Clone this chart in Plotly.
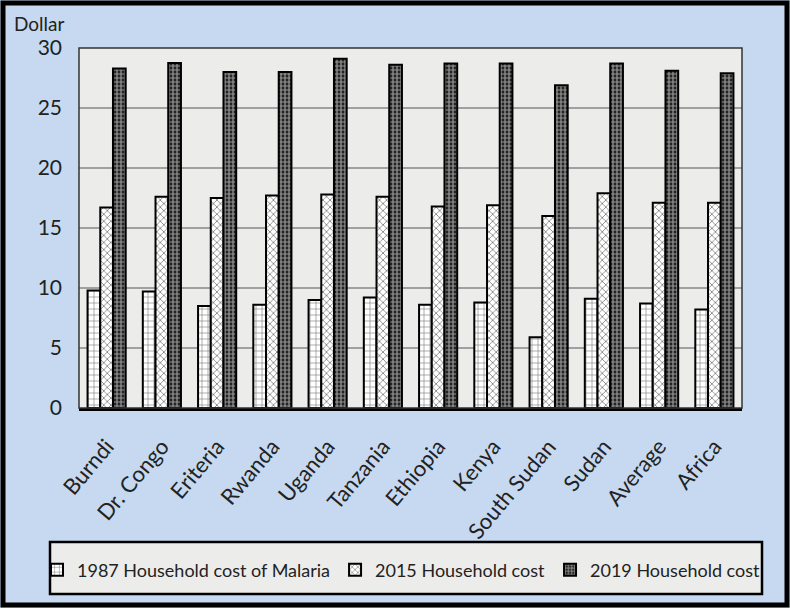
import plotly.graph_objects as go

categories = ["Burndi", "Dr. Congo", "Eriteria", "Rwanda", "Uganda", "Tanzania",
              "Ethiopia", "Kenya", "South Sudan", "Sudan", "Average", "Africa"]
cost_1987 = [9.8, 9.7, 8.5, 8.6, 9.0, 9.2, 8.6, 8.8, 5.9, 9.1, 8.7, 8.2]
cost_2015 = [16.7, 17.6, 17.5, 17.7, 17.8, 17.6, 16.8, 16.9, 16.0, 17.9, 17.1, 17.1]
cost_2019 = [28.3, 28.75, 28.0, 28.0, 29.1, 28.6, 28.7, 28.7, 26.9, 28.7, 28.1, 27.9]
series_names = ["1987 Household cost of Malaria", "2015 Household cost", "2019 Household cost"]
y_ticks = [0, 5, 10, 15, 20, 25, 30]

FONT = "Lato"
TXT = "#222222"
fig = go.Figure()
fig.add_trace(go.Bar(
    x=categories, y=cost_1987, name=series_names[0],
    marker=dict(color="white", line=dict(color="black", width=2),
                pattern=dict(shape="+", fgcolor="black", bgcolor="white", size=6, solidity=0.2)),
))
fig.add_trace(go.Bar(
    x=categories, y=cost_2015, name=series_names[1],
    marker=dict(color="white", line=dict(color="black", width=2),
                pattern=dict(shape="x", fgcolor="black", bgcolor="white", size=5, solidity=0.3)),
))
fig.add_trace(go.Bar(
    x=categories, y=cost_2019, name=series_names[2],
    marker=dict(color="black", line=dict(color="black", width=2),
                pattern=dict(shape=".", fgcolor="white", bgcolor="black", size=4, solidity=0.7)),
))

L, R, T, B = 79, 48, 48, 200
PW, PH = 790 - L - R, 608 - T - B

def px_x(x):
    return (x - L) / PW

def px_y(y):
    return (608 - B - y) / PH

fig.update_layout(
    width=790, height=608,
    margin=dict(l=L, r=R, t=T, b=B, pad=0, autoexpand=False),
    paper_bgcolor="#c6d9f0",
    plot_bgcolor="#ececea",
    barmode="group",
    bargap=0.31,
    bargroupgap=0.0,
    font=dict(family=FONT, color=TXT),
    showlegend=True,
    legend=dict(
        orientation="h", x=px_x(37), xanchor="left",
        y=px_y(570), yanchor="middle",
        bgcolor="rgba(0,0,0,0)", borderwidth=0,
        font=dict(family=FONT, size=18, color=TXT),
        traceorder="normal",
    ),
    xaxis=dict(
        tickangle=-50, tickfont=dict(family=FONT, size=22, color=TXT),
        showline=True, linecolor="black", linewidth=3, ticks="",
        ticklabelstandoff=14,
    ),
    yaxis=dict(
        range=[0, 30], tickvals=y_ticks, ticktext=[str(v) for v in y_ticks],
        tickfont=dict(family=FONT, size=21, color=TXT),
        showgrid=True, gridcolor="#a0a0a0", gridwidth=1.5, zeroline=False,
        showline=False, ticks="", ticklabelstandoff=16,
    ),
    annotations=[dict(
        text="Dollar", xref="paper", yref="paper",
        x=px_x(12), y=px_y(23), xanchor="left", yanchor="middle",
        showarrow=False, font=dict(family=FONT, size=19, color=TXT),
    )],
    shapes=[
        dict(type="rect", xref="paper", yref="paper", x0=0, x1=1, y0=0, y1=1,
             line=dict(color="#333333", width=1.5), layer="above"),
        dict(type="rect", xref="paper", yref="paper",
             x0=px_x(50), x1=px_x(762), y0=px_y(594), y1=px_y(542),
             fillcolor="#ececea", line=dict(color="black", width=2.5), layer="below"),
        dict(type="rect", xref="paper", yref="paper",
             x0=px_x(3), x1=px_x(787), y0=px_y(605), y1=px_y(3),
             line=dict(color="black", width=5), layer="above"),
    ],
)

fig.write_html("out.html", config={"displayModeBar": False},
               post_script="document.body.style.margin='0';")
